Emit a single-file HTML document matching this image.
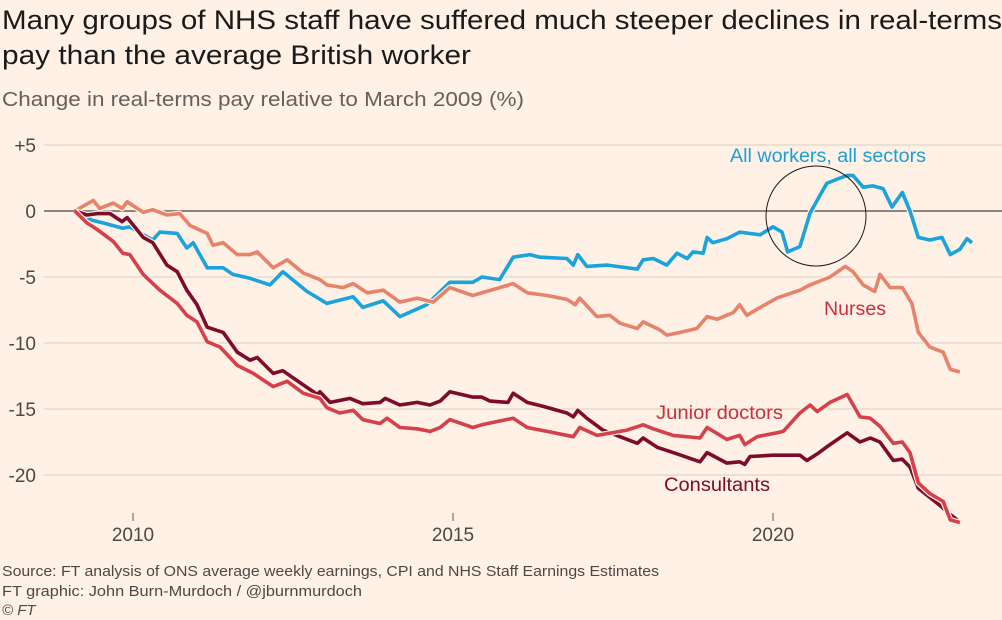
<!DOCTYPE html>
<html><head><meta charset="utf-8">
<style>
html,body{margin:0;padding:0;background:#fff1e5;}
body{width:1002px;height:620px;overflow:hidden;font-family:"Liberation Sans",sans-serif;}
</style></head>
<body>
<svg id="chart" width="1002" height="620" xmlns="http://www.w3.org/2000/svg" style="position:absolute;left:0;top:0">
<rect width="1002" height="620" fill="#fff1e5"/>
<text x="2" y="29" font-size="27" fill="#1a1a1a" textLength="1000" lengthAdjust="spacingAndGlyphs">Many groups of NHS staff have suffered much steeper declines in real-terms</text>
<text x="2" y="64" font-size="27" fill="#1a1a1a" textLength="469" lengthAdjust="spacingAndGlyphs">pay than the average British worker</text>
<text x="2" y="106" font-size="20" fill="#66605c" textLength="522" lengthAdjust="spacingAndGlyphs">Change in real-terms pay relative to March 2009 (%)</text>
<g id="grid"></g>
<g id="series"></g>
<circle cx="816" cy="216" r="50" fill="none" stroke="#1a1a1a" stroke-width="1"/>
<text x="730" y="162" font-size="19" fill="#1a9fd6" textLength="196" lengthAdjust="spacingAndGlyphs">All workers, all sectors</text>
<text x="824" y="315" font-size="19" fill="#c9303e" textLength="62" lengthAdjust="spacingAndGlyphs">Nurses</text>
<text x="656" y="419" font-size="19" fill="#c9303e" textLength="127" lengthAdjust="spacingAndGlyphs">Junior doctors</text>
<text x="664" y="491" font-size="19" fill="#7a0b2c" textLength="106" lengthAdjust="spacingAndGlyphs">Consultants</text>
<text x="2" y="576" font-size="15" fill="#4d4845" textLength="657" lengthAdjust="spacingAndGlyphs">Source: FT analysis of ONS average weekly earnings, CPI and NHS Staff Earnings Estimates</text>
<text x="2" y="596" font-size="15" fill="#4d4845" textLength="360" lengthAdjust="spacingAndGlyphs">FT graphic: John Burn-Murdoch / @jburnmurdoch</text>
<text x="2" y="615" font-size="15" font-style="italic" fill="#4d4845">© FT</text>
</svg>
<script>
const yTicks=[5,0,-5,-10,-15,-20];
const yTickLabels=["+5","0","-5","-10","-15","-20"];
const xTicks=[2010,2015,2020];
const allT=[2009.09,2009.36,2009.53,2009.84,2009.95,2010.31,2010.42,2010.69,2010.84,2010.94,2011.16,2011.41,2011.56,2011.83,2012.14,2012.34,2012.72,2013.03,2013.44,2013.59,2013.91,2014.17,2014.59,2014.95,2015.31,2015.45,2015.73,2015.94,2016.20,2016.36,2016.78,2016.88,2016.95,2017.09,2017.41,2017.88,2017.97,2018.13,2018.34,2018.50,2018.66,2018.75,2018.91,2018.97,2019.06,2019.28,2019.48,2019.80,2020.00,2020.14,2020.23,2020.42,2020.58,2020.84,2021.05,2021.16,2021.25,2021.41,2021.56,2021.72,2021.86,2022.02,2022.14,2022.27,2022.45,2022.64,2022.77,2022.92,2023.03,2023.11];
const allV=[0,-0.7,-0.9,-1.3,-1.2,-2.2,-1.6,-1.7,-2.8,-2.4,-4.3,-4.3,-4.8,-5.1,-5.6,-4.6,-6.1,-7.0,-6.5,-7.3,-6.8,-8.0,-7.1,-5.4,-5.4,-5.0,-5.2,-3.5,-3.3,-3.5,-3.6,-4.1,-3.3,-4.2,-4.1,-4.4,-3.7,-3.6,-4.1,-3.2,-3.6,-3.1,-3.2,-2.0,-2.4,-2.1,-1.6,-1.8,-1.2,-1.6,-3.1,-2.7,-0.15,2.1,2.5,2.7,2.7,1.8,1.9,1.7,0.3,1.4,0,-2.0,-2.2,-2.0,-3.3,-2.9,-2.1,-2.4];
const nurT=[2009.09,2009.38,2009.48,2009.69,2009.83,2009.91,2010.16,2010.31,2010.53,2010.73,2010.89,2011.16,2011.25,2011.41,2011.63,2011.83,2011.94,2012.19,2012.41,2012.66,2012.92,2013.03,2013.28,2013.44,2013.66,2013.91,2014.17,2014.44,2014.69,2014.95,2015.31,2015.94,2016.16,2016.47,2016.78,2016.91,2016.98,2017.25,2017.45,2017.61,2017.88,2017.97,2018.23,2018.34,2018.55,2018.81,2018.97,2019.13,2019.38,2019.48,2019.59,2019.80,2020.06,2020.42,2020.58,2020.89,2021.13,2021.25,2021.41,2021.59,2021.67,2021.83,2022.02,2022.17,2022.27,2022.45,2022.66,2022.77,2022.92];
const nurV=[0,0.8,0.2,0.6,0.2,0.7,-0.1,0.1,-0.3,-0.2,-1.1,-1.7,-2.6,-2.4,-3.3,-3.3,-3.1,-4.3,-3.7,-4.7,-5.2,-5.6,-5.8,-5.5,-6.2,-6.0,-6.9,-6.6,-6.9,-5.8,-6.4,-5.5,-6.2,-6.4,-6.7,-7.1,-6.6,-8.0,-7.9,-8.5,-8.9,-8.4,-9.0,-9.4,-9.2,-8.9,-8.0,-8.2,-7.7,-7.1,-7.9,-7.3,-6.6,-6.0,-5.6,-5.0,-4.2,-4.6,-5.6,-6.1,-4.8,-5.8,-5.8,-7.0,-9.2,-10.3,-10.7,-12.0,-12.2];
const junT=[2009.09,2009.28,2009.44,2009.69,2009.84,2009.95,2010.16,2010.42,2010.69,2010.84,2011.00,2011.16,2011.36,2011.63,2011.88,2012.19,2012.41,2012.66,2012.92,2013.03,2013.23,2013.44,2013.59,2013.86,2013.97,2014.17,2014.44,2014.64,2014.80,2014.95,2015.31,2015.45,2015.94,2016.16,2016.47,2016.88,2016.98,2017.25,2017.72,2017.97,2018.13,2018.44,2018.86,2018.97,2019.28,2019.48,2019.56,2019.75,2020.06,2020.16,2020.42,2020.58,2020.69,2020.89,2021.16,2021.36,2021.52,2021.67,2021.88,2022.02,2022.14,2022.27,2022.45,2022.66,2022.77,2022.92];
const junV=[0,-0.9,-1.4,-2.3,-3.2,-3.3,-4.8,-6.0,-7.0,-7.9,-8.4,-9.9,-10.3,-11.7,-12.3,-13.3,-12.9,-13.8,-14.2,-14.9,-15.3,-15.1,-15.8,-16.1,-15.7,-16.4,-16.5,-16.7,-16.4,-15.8,-16.4,-16.2,-15.7,-16.4,-16.7,-17.1,-16.4,-17.0,-16.6,-16.2,-16.5,-17.0,-17.2,-16.4,-17.3,-17.0,-17.7,-17.1,-16.8,-16.7,-15.3,-14.7,-15.2,-14.5,-13.9,-15.6,-15.7,-16.3,-17.6,-17.5,-18.3,-20.6,-21.4,-22.0,-23.4,-23.6];
const conT=[2009.09,2009.28,2009.44,2009.64,2009.83,2009.91,2010.16,2010.31,2010.53,2010.69,2010.84,2011.00,2011.16,2011.41,2011.63,2011.83,2011.94,2012.19,2012.34,2012.61,2012.88,2012.92,2013.08,2013.39,2013.59,2013.86,2013.94,2014.17,2014.44,2014.64,2014.80,2014.95,2015.31,2015.45,2015.58,2015.86,2015.94,2016.16,2016.41,2016.78,2016.88,2016.95,2017.09,2017.34,2017.56,2017.88,2017.97,2018.19,2018.44,2018.86,2018.97,2019.28,2019.48,2019.56,2019.64,2020.00,2020.42,2020.53,2020.69,2020.89,2021.16,2021.36,2021.52,2021.67,2021.88,2022.02,2022.14,2022.27,2022.45,2022.61,2022.77,2022.88];
const conV=[0,-0.3,-0.2,-0.2,-0.8,-0.5,-2.0,-2.4,-4.1,-4.6,-6.0,-7.1,-8.8,-9.2,-10.7,-11.3,-11.1,-12.3,-12.1,-13.0,-13.9,-13.7,-14.5,-14.2,-14.6,-14.5,-14.2,-14.7,-14.5,-14.7,-14.4,-13.7,-14.1,-14.1,-14.4,-14.5,-13.8,-14.5,-14.8,-15.3,-15.6,-15.1,-15.7,-16.6,-17.0,-17.6,-17.2,-17.9,-18.3,-19.0,-18.3,-19.1,-19.0,-19.2,-18.6,-18.5,-18.5,-18.9,-18.4,-17.7,-16.8,-17.5,-17.2,-17.5,-18.9,-18.8,-19.4,-21.0,-21.7,-22.3,-23.0,-23.4];

const NS='http://www.w3.org/2000/svg';
function xS(t){return 133+(t-2010)*64;}
function yS(v){return 211-v*13.2;}
const grid=document.getElementById('grid');
yTicks.forEach((v,i)=>{
  const l=document.createElementNS(NS,'line');
  
  
  l.setAttribute('x1',44);l.setAttribute('x2',1002);
  l.setAttribute('y1',yS(v));l.setAttribute('y2',yS(v));
  l.setAttribute('stroke',v===0?'#66605c':'#e6d9ce');
  l.setAttribute('stroke-width',1.5);
  grid.appendChild(l);
  const t=document.createElementNS(NS,'text');
  
  
  t.setAttribute('x',36);t.setAttribute('y',yS(v)+7);
  t.setAttribute('text-anchor','end');t.setAttribute('font-size','19');t.setAttribute('fill','#4d4845');
  t.textContent=yTickLabels[i];
  grid.appendChild(t);
});
xTicks.forEach(v=>{
  const l=document.createElementNS(NS,'line');
  
  
  l.setAttribute('x1',xS(v));l.setAttribute('x2',xS(v));
  l.setAttribute('y1',513);l.setAttribute('y2',521);
  l.setAttribute('stroke','#66605c');
  grid.appendChild(l);
  const t=document.createElementNS(NS,'text');
  
  
  t.setAttribute('x',xS(v));t.setAttribute('y',541);
  t.setAttribute('text-anchor','middle');t.setAttribute('font-size','19');t.setAttribute('fill','#4d4845');
  t.textContent=v;
  grid.appendChild(t);
});
const ser=document.getElementById('series');
function draw(T,V,color,name){
  const d=T.map((t,i)=>(i?'L':'M')+xS(t).toFixed(1)+','+yS(V[i]).toFixed(1)).join('');
  const h=document.createElementNS(NS,'path');
  h.setAttribute('d',d);h.setAttribute('fill','none');h.setAttribute('stroke','#fff1e5');h.setAttribute('stroke-width',6);h.setAttribute('stroke-linejoin','round');
  
  
  ser.appendChild(h);
  const p=document.createElementNS(NS,'path');
  p.setAttribute('d',d);p.setAttribute('fill','none');p.setAttribute('stroke',color);p.setAttribute('stroke-width',3.6);p.setAttribute('stroke-linejoin','round');
  
  
  ser.appendChild(p);
}
draw(allT,allV,'#1aa3dc','line-all-workers');
draw(nurT,nurV,'#e8836b','line-nurses');
draw(conT,conV,'#7d0c2b','line-consultants');
draw(junT,junV,'#d6404a','line-junior-doctors');
</script>
</body></html>
